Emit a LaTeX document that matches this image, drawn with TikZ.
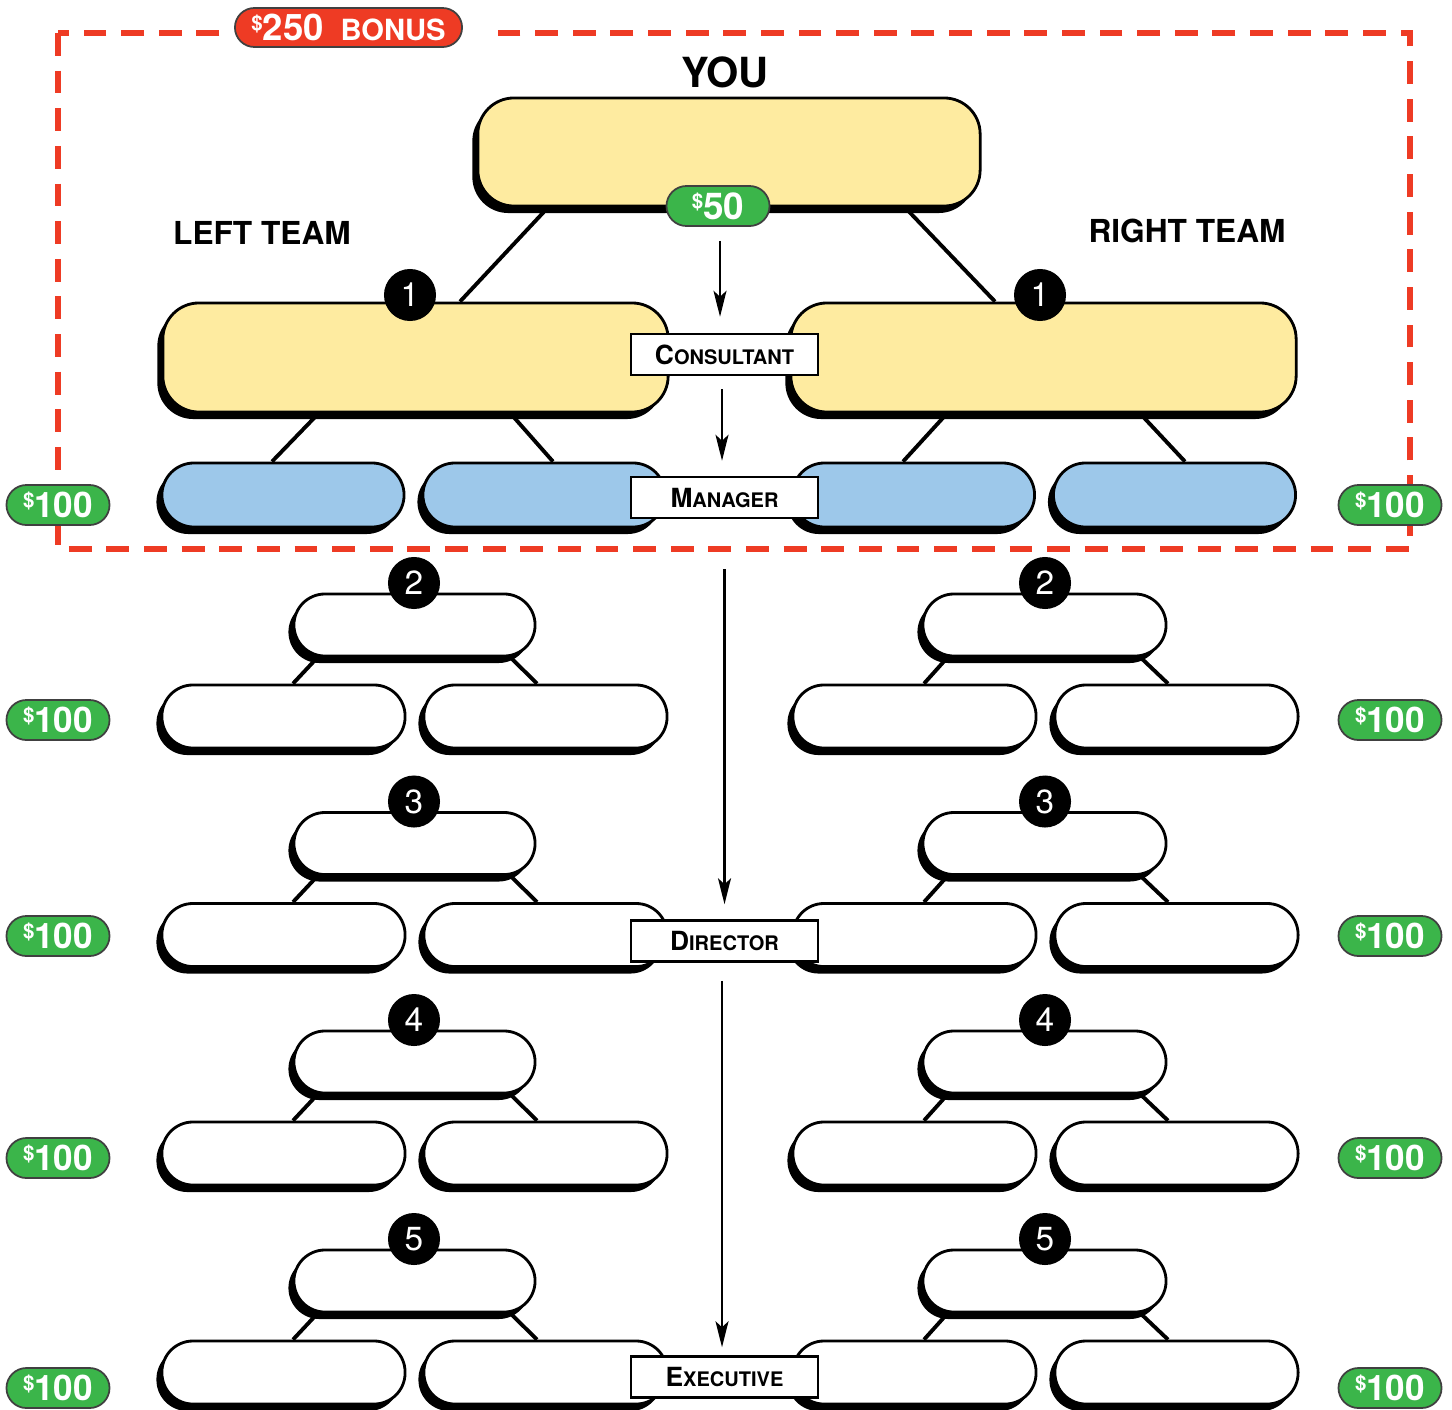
\documentclass[tikz,border=0pt]{standalone}
\usepackage{fontspec}
\setmainfont{TeX Gyre Heros}
\usetikzlibrary{arrows.meta,shadows,calc,backgrounds}
\definecolor{bred}{HTML}{EE3B24}
\definecolor{bgreen}{HTML}{3BB54A}
\definecolor{byellow}{HTML}{FEEBA0}
\definecolor{bblue}{HTML}{9DC8EA}
\newcommand{\fsz}[1]{\fontsize{#1}{#1}\selectfont}
\newcommand{\sclab}[2]{{\fsz{7.5}#1}{\fsz{5.7}#2}}
\newcommand{\dollar}{{\fsz{5.8}\raisebox{3pt}{\$}}}
\begin{document}
\begin{tikzpicture}[x=0.01cm,y=-0.01cm,
  shad/.style={drop shadow={shadow xshift=-0.055cm,shadow yshift=-0.07cm,fill=black,opacity=1}},
  ybox/.style={shad,draw=black,line width=0.8pt,fill=byellow,rounded corners=0.36cm,minimum width=5.05cm,minimum height=1.09cm,inner sep=0pt},
  wpill/.style={shad,draw=black,line width=0.8pt,fill=white,rounded corners=0.31cm,minimum width=2.42cm,minimum height=0.63cm,inner sep=0pt},
  bpill/.style={wpill,fill=bblue,minimum height=0.64cm,rounded corners=0.32cm},
  money/.style={draw=black!75,line width=0.5pt,fill=bgreen,text=white,rounded corners=0.2cm,minimum width=1.03cm,minimum height=0.40cm,inner sep=0pt,font=\bfseries},
  num/.style={circle,fill=black,text=white,minimum size=0.52cm,inner sep=0pt,font=\fsz{9.5}},
  lab/.style={draw=black,line width=0.7pt,fill=white,minimum width=1.87cm,minimum height=0.41cm,inner sep=0pt,font=\bfseries},
  team/.style={font=\bfseries\fsz{9}},
  conn/.style={line width=1.1pt},
  arr/.style={line width=0.6pt,-{Stealth[length=0.26cm,width=0.13cm,inset=0.06cm]}},
]
\useasboundingbox (0,0) rectangle (1452,1409);
\clip (0,0) rectangle (1452,1409);
% dashed frame
\draw[bred,line width=1.7pt,dash pattern=on 6.5pt off 4.2pt] (58,33) rectangle (1410,549);
\fill[white] (224,18) rectangle (483,48);
\node[money,fill=bred,minimum width=2.27cm,minimum height=0.39cm,rounded corners=0.195cm] (bonus) at (348.5,27.5) {\dollar{\fsz{10.4}250}\hspace{4.8pt}{\fsz{8.3}BONUS}};
% top
\node[font=\bfseries\fsz{11.8}] (youlab) at (725,72) {YOU};
\node[ybox,minimum width=5.02cm,minimum height=1.08cm] (you) at (729,152) {};
\node[money] (b50) at (718,206) {\dollar{\fsz{10.5}50}};
\node[team] (ltlab) at (262,233) {LEFT TEAM};
\node[team] (rtlab) at (1187,231) {RIGHT TEAM};
\node[ybox] (lt) at (415.5,357.5) {};
\node[ybox] (rt) at (1043.5,357.5) {};
\node[num] (n1l) at (410,295) {1};
\node[num] (n1r) at (1040,295) {1};
% blue
\node[bpill] (b1) at (283,495) {};
\node[bpill] (b2) at (544,495) {};
\node[bpill] (b3) at (913.5,495) {};
\node[bpill] (b4) at (1174.5,495) {};
% white levels
\foreach \k/\T in {2/594,3/812.5,4/1031,5/1250}{
  \node[wpill,minimum width=2.41cm,minimum height=0.62cm] (lt\k) at (414.5,\T+31) {};
  \node[wpill,minimum width=2.43cm,minimum height=0.62cm] (rt\k) at (1044.5,\T+31) {};
  \node[wpill,minimum width=2.43cm] (lbl\k) at (283.5,\T+122.5) {};
  \node[wpill,minimum width=2.43cm] (lbr\k) at (545.5,\T+122.5) {};
  \node[wpill,minimum width=2.43cm] (rbl\k) at (914.5,\T+122.5) {};
  \node[wpill,minimum width=2.43cm] (rbr\k) at (1176.5,\T+122.5) {};
  \node[num] (nl\k) at (414,\T-11) {\k};
  \node[num] (nr\k) at (1045,\T-11) {\k};
}
% money badges
\foreach \i/\y in {1/505,2/720,3/936,4/1158,5/1388}{
  \node[money] (ml\i) at (58,\y) {\dollar{\fsz{10}100}};
  \node[money] (mr\i) at (1390,\y) {\dollar{\fsz{10}100}};
}
% labels
\node[lab] (cons) at (724.5,354.5) {\sclab{C}{ONSULTANT}};
\node[lab] (mgr) at (724.5,497.5) {\sclab{M}{ANAGER}};
\node[lab] (dir) at (724.5,941) {\sclab{D}{IRECTOR}};
\node[lab] (exe) at (724.5,1377) {\sclab{E}{XECUTIVE}};
% arrows
\draw[arr] ($(b50.south)+(2,14)$) -- ($(cons.north)+(-4.5,-16)$);
\draw[arr] ($(cons.south)+(-2.5,13)$) -- ($(mgr.north)+(-2.5,-15)$);
\draw[arr] ($(mgr.south)+(0,50)$) -- ($(dir.north)+(0,-15)$);
\draw[arr] ($(dir.south)+(-2.5,18)$) -- ($(exe.north)+(-2.5,-8)$);
% connectors
\begin{scope}[on background layer]
  \draw[conn] ($(you.south)+(-181,0)$) -- ($(lt.north)+(44.5,0)$);
  \draw[conn] ($(you.south)+(176,0)$) -- ($(rt.north)+(-48.5,0)$);
  \draw[conn] ($(lt.south)+(-97,0)$) -- ($(b1.north)+(-11,0)$);
  \draw[conn] ($(lt.south)+(95,0)$) -- ($(b2.north)+(9,0)$);
  \draw[conn] ($(rt.south)+(-96.5,0)$) -- ($(b3.north)+(-10.5,0)$);
  \draw[conn] ($(rt.south)+(96.5,0)$) -- ($(b4.north)+(10.5,0)$);
  \foreach \k in {2,3,4,5}{
    \draw[conn] ($(lt\k.south)+(-97,0)$) -- ($(lbl\k.north)+(9.5,0)$);
    \draw[conn] ($(lt\k.south)+(96,0)$) -- ($(lbr\k.north)+(-8.5,0)$);
    \draw[conn] ($(rt\k.south)+(-97,0)$) -- ($(rbl\k.north)+(9.5,0)$);
    \draw[conn] ($(rt\k.south)+(96,0)$) -- ($(rbr\k.north)+(-8.5,0)$);
  }
\end{scope}
\end{tikzpicture}
\end{document}
